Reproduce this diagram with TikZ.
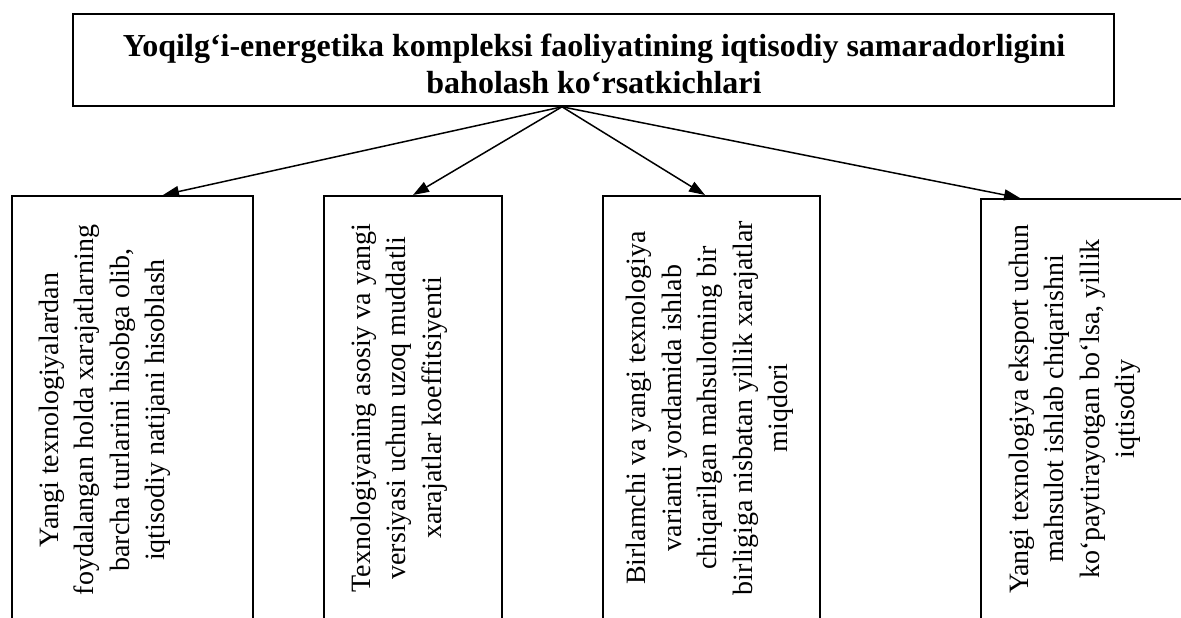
\documentclass[tikz,border=0pt]{standalone}
\usepackage{fontspec}
\setmainfont{Liberation Serif}
\usetikzlibrary {arrows.meta,
                 calc,
                 positioning}
\tikzset{
        base/.style={draw, line width=0.8pt},
        head/.style={base, minimum width=520.5pt, minimum height=46pt,
                     align=center,
                     font=\fontsize{16}{18.5}\selectfont\bfseries},
        panel/.style={base, anchor=north west, minimum height=240pt},
        vtext/.style={rotate=90, align=center, inner sep=0pt,
                      font=\fontsize{14}{17.75}\selectfont},
        myarrow/.style={-{Triangle[length=8pt, width=5.5pt]}, line width=0.75pt},
 }

\begin{document}
\begin{tikzpicture}[x=0.5pt, y=-0.5pt]
    \useasboundingbox (0,0) rectangle (1181,617);
    \clip (0,0) rectangle (1181,617);

    \node[head] (top) at (593.5,60) {};
    \node[align=center, font=\fontsize{16}{18.5}\selectfont\bfseries] (title) at (594,64) {Yoqilg‘i-energetika kompleksi faoliyatining iqtisodiy samaradorligini\\baholash ko‘rsatkichlari};
    \coordinate (hub) at ([xshift=-15.75pt]top.south);

    % boxes run off the lower edge
    \node[panel, minimum width=120.5pt] (b1) at (11,195) {};
    \node[panel, minimum width=89pt] (b2) at (323,195) {};
    \node[panel, minimum width=108.5pt] (b3) at (602,195) {};
    \node[panel, minimum width=130pt] (b4) at (980,198) {};

    \coordinate (in1) at ([xshift=76pt]b1.north west);
    \coordinate (in2) at ([xshift=45pt]b2.north west);
    \coordinate (in3) at ([xshift=51.5pt]b3.north west);
    \coordinate (in4) at ([xshift=20pt]b4.north west);

    \node[vtext] (t1) at (105,410) {Yangi texnologiyalardan\\foydalangan holda xarajatlarning\\barcha turlarini hisobga olib,\\iqtisodiy natijani hisoblash};
    \node[vtext] (t2) at (399,408) {Texnologiyaning asosiy va yangi\\versiyasi uchun uzoq muddatli\\xarajatlar koeffitsiyenti};
    \node[vtext] (t3) at (710,408) {Birlamchi va yangi texnologiya\\varianti yordamida ishlab\\chiqarilgan mahsulotning bir\\birligiga nisbatan yillik xarajatlar\\miqdori};
    \node[vtext] (t4) at (1075,409) {Yangi texnologiya eksport uchun\\mahsulot ishlab chiqarishni\\koʻpaytirayotgan boʻlsa, yillik\\iqtisodiy};

    \foreach \i in {1,...,4}
        \draw[myarrow] (hub) -- (in\i);
\end{tikzpicture}
\end{document}
